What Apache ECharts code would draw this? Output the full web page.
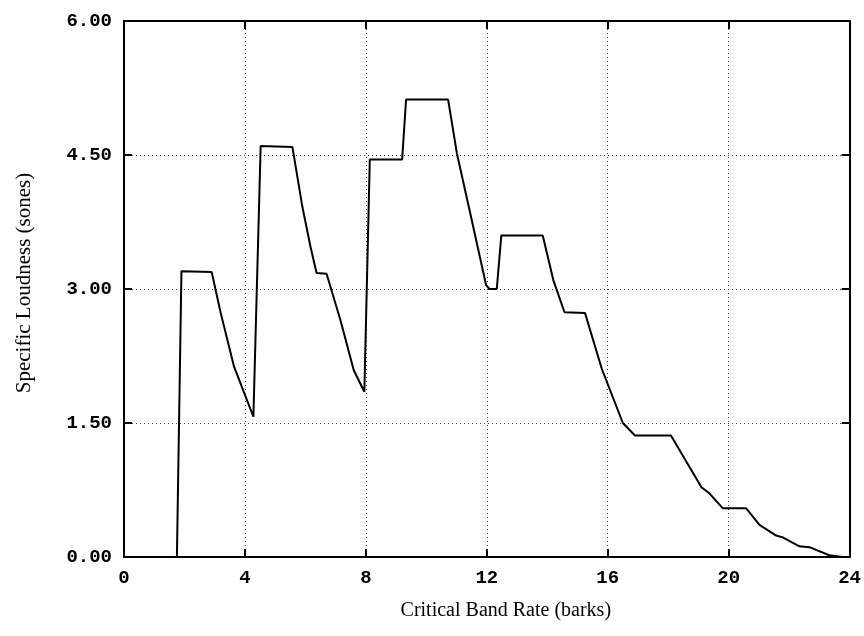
<!DOCTYPE html>
<html>
<head>
<meta charset="utf-8">
<script src="https://cdn.jsdelivr.net/npm/echarts@6/dist/echarts.min.js"></script>
<style>
    html, body { margin: 0; padding: 0; background: #fff; }
    #chart { width: 864px; height: 636px; }
</style>
</head>
<body>
<div id="chart"></div>
<script>
// specific loudness pattern
const barks = [0, 1.75, 1.9, 2.9, 3.2, 3.64, 4.28, 4.52, 5.57, 5.9, 6.17, 6.37, 6.7, 7.16, 7.6, 7.95, 8.13, 9.2, 9.33, 10.72, 11.01, 11.45, 11.98, 12.09, 12.33, 12.48, 13.85, 14.2, 14.57, 15.25, 15.8, 16.5, 16.9, 18.09, 19.1, 19.37, 19.81, 20.58, 21.02, 21.57, 21.79, 22.34, 22.67, 23.33, 23.77];
const sones = [0, 0, 3.2, 3.19, 2.73, 2.13, 1.57, 4.6, 4.59, 3.92, 3.47, 3.18, 3.17, 2.65, 2.09, 1.85, 4.45, 4.45, 5.12, 5.12, 4.52, 3.85, 3.04, 3.0, 3.0, 3.6, 3.6, 3.1, 2.74, 2.73, 2.11, 1.5, 1.36, 1.36, 0.78, 0.71, 0.545, 0.545, 0.36, 0.24, 0.22, 0.12, 0.11, 0.02, 0.0];
const xTicks = [0, 4, 8, 12, 16, 20, 24];
const yTicks = [0, 1.5, 3, 4.5, 6];

const myChart = echarts.init(document.getElementById("chart"));

const tickFont = {
    fontFamily: "Liberation Mono",
    fontWeight: "bold",
    fontSize: 19,
    color: "#000"
};
const frameLine = {show: true, onZero: false, lineStyle: {color: "#000", width: 2}};
const innerTick = {show: true, inside: true, length: 8, lineStyle: {color: "#000", width: 2}};
const dotted = {show: true, lineStyle: {color: "#444", width: 1, type: [1, 3]}};

const xBase = {
    type: "value",
    min: xTicks[0],
    max: xTicks[xTicks.length - 1],
    interval: xTicks[1] - xTicks[0],
    axisLine: frameLine,
    axisTick: innerTick
};
const yBase = {
    type: "value",
    min: yTicks[0],
    max: yTicks[yTicks.length - 1],
    interval: yTicks[1] - yTicks[0],
    axisLine: frameLine,
    axisTick: innerTick
};

let option = {
    animation: false,
    backgroundColor: "#fff",
    grid: {
        left: 124,
        right: 14,
        top: 21,
        bottom: 79
    },
    xAxis: [
        Object.assign({}, xBase, {
            position: "bottom",
            name: "Critical Band Rate (barks)",
            nameLocation: "middle",
            nameGap: 44,
            nameTextStyle: {
                fontFamily: "Liberation Serif",
                fontSize: 20,
                color: "#000",
                padding: [0, 0, 0, 38]
            },
            axisLabel: Object.assign({margin: 12}, tickFont),
            splitLine: dotted
        }),
        Object.assign({}, xBase, {
            position: "top",
            axisLabel: {show: false},
            splitLine: {show: false}
        })
    ],
    yAxis: [
        Object.assign({}, yBase, {
            position: "left",
            name: "Specific Loudness (sones)",
            nameLocation: "middle",
            nameGap: 89,
            nameTextStyle: {
                fontFamily: "Liberation Serif",
                fontSize: 21,
                color: "#000",
                padding: [0, 0, 0, 12]
            },
            axisLabel: Object.assign({
                margin: 12,
                formatter: v => v.toFixed(2)
            }, tickFont),
            splitLine: dotted
        }),
        Object.assign({}, yBase, {
            position: "right",
            axisLabel: {show: false},
            splitLine: {show: false}
        })
    ],
    series: [{
        type: "line",
        data: barks.map((b, i) => [b, sones[i]]),
        symbol: "none",
        lineStyle: {
            color: "#000",
            width: 2
        }
    }]
};

option && myChart.setOption(option);
</script>
</body>
</html>
